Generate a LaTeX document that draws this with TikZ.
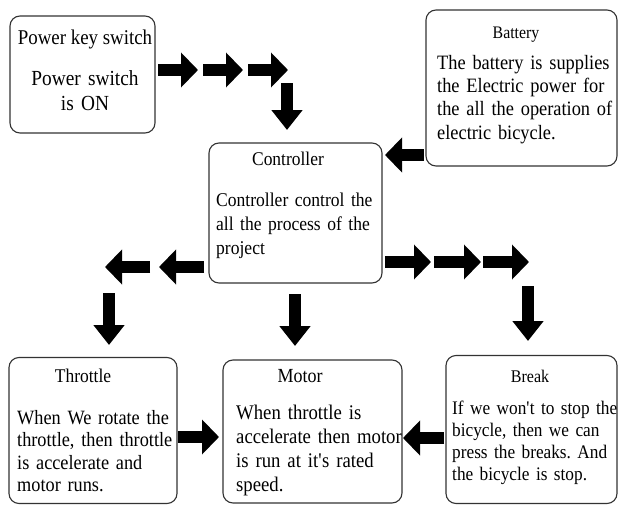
\documentclass[tikz,border=0pt]{standalone}
\usepackage{fontspec}
\setmainfont{Liberation Serif}[FakeStretch=0.9]
\usetikzlibrary{arrows.meta}
\frenchspacing
\begin{document}
\begin{tikzpicture}[x=1pt,y=-1pt,
  box/.style={draw=black!80, line width=1.1pt, rounded corners=10pt, inner sep=0pt},
  ttl/.style={anchor=base, inner sep=0pt, font=\fontsize{19.4}{23}\selectfont},
  body/.style={anchor=base west, inner sep=0pt, align=left, text width=#1},
  blk/.style={line width=12pt, -{Triangle[width=34pt,length=17pt]}},
  blkv/.style={line width=12pt, -{Triangle[width=30pt,length=20pt]}}]
\useasboundingbox (0,0) rectangle (619,506);
% boxes
\node[box, minimum width=145pt, minimum height=117pt] (power) at (82.5,74.5) {};
\node[box, minimum width=191pt, minimum height=156pt] (battery) at (521.5,88) {};
\node[box, minimum width=173pt, minimum height=140pt] (ctrl) at (295.5,213) {};
\node[box, minimum width=168pt, minimum height=146pt] (thr) at (93,430.5) {};
\node[box, minimum width=179pt, minimum height=143pt] (motor) at (312.5,431.5) {};
\node[box, minimum width=171pt, minimum height=148pt] (brk) at (531.5,429.5) {};
% texts
\node[ttl, font=\fontsize{21}{25}\selectfont] (powerT) at (85,45) {Power key switch};
\node[anchor=base, inner sep=0pt, align=center, text width=140pt, font=\fontsize{21.5}{25}\selectfont] (powerB) at (85,85) {Power switch\\is ON};
\node[ttl, font=\fontsize{17.6}{21}\selectfont] (batT) at (516,38) {Battery};
\node[body=210pt, font=\fontsize{20.4}{23.5}\selectfont] (batB) at (437,69) {The battery is supplies\\the Electric power for\\the all the operation of\\electric bicycle.};
\node[ttl] (ctrlT) at (288,165) {Controller};
\node[body=210pt, font=\fontsize{19.5}{24}\selectfont] (ctrlB) at (216,206) {Controller control the\\all the process of the\\project};
\node[ttl] (thrT) at (83,382) {Throttle};
\node[body=210pt, font=\fontsize{20.3}{22.5}\selectfont] (thrB) at (17,424) {When We rotate the\\throttle, then throttle\\is accelerate and\\motor runs.};
\node[ttl, font=\fontsize{20}{24}\selectfont] (motT) at (300,382) {Motor};
\node[body=210pt, font=\fontsize{20.8}{24}\selectfont] (motB) at (236,419) {When throttle is\\accelerate then motor\\is run at it\textquotesingle s rated\\speed.};
\node[ttl, font=\fontsize{17.8}{21}\selectfont] (brkT) at (530,382) {Break};
\node[body=210pt, font=\fontsize{19.2}{22}\selectfont] (brkB) at (452,414) {If we won\textquotesingle t to stop the\\bicycle, then we can\\press the breaks. And\\the bicycle is stop.};
% arrow coordinates
\coordinate (p1a) at (158,70); \coordinate (p1b) at (198,70);
\coordinate (p2a) at (203,70); \coordinate (p2b) at (243,70);
\coordinate (p3a) at (248,70); \coordinate (p3b) at (288,70);
\coordinate (p4a) at (287,83); \coordinate (p4b) at (287,130);
\coordinate (b1a) at (424,155); \coordinate (b1b) at (385,155);
\coordinate (l1a) at (204,267); \coordinate (l1b) at (159,267);
\coordinate (l2a) at (150,267); \coordinate (l2b) at (105,267);
\coordinate (l3a) at (109,293); \coordinate (l3b) at (109,345);
\coordinate (c1a) at (295,294); \coordinate (c1b) at (295,346);
\coordinate (r1a) at (385,262); \coordinate (r1b) at (431,262);
\coordinate (r2a) at (434,262); \coordinate (r2b) at (481,262);
\coordinate (r3a) at (483,262); \coordinate (r3b) at (529,262);
\coordinate (r4a) at (528,286); \coordinate (r4b) at (528,341);
\coordinate (t1a) at (178,437); \coordinate (t1b) at (219,437);
\coordinate (k1a) at (444,438); \coordinate (k1b) at (403,438);
% arrows
\draw[blk] (p1a) -- (p1b);
\draw[blk] (p2a) -- (p2b);
\draw[blk] (p3a) -- (p3b);
\draw[blkv] (p4a) -- (p4b);
\draw[blk] (b1a) -- (b1b);
\draw[blk] (l1a) -- (l1b);
\draw[blk] (l2a) -- (l2b);
\draw[blkv] (l3a) -- (l3b);
\draw[blkv] (c1a) -- (c1b);
\draw[blk] (r1a) -- (r1b);
\draw[blk] (r2a) -- (r2b);
\draw[blk] (r3a) -- (r3b);
\draw[blkv] (r4a) -- (r4b);
\draw[blk] (t1a) -- (t1b);
\draw[blk] (k1a) -- (k1b);
\end{tikzpicture}
\end{document}
